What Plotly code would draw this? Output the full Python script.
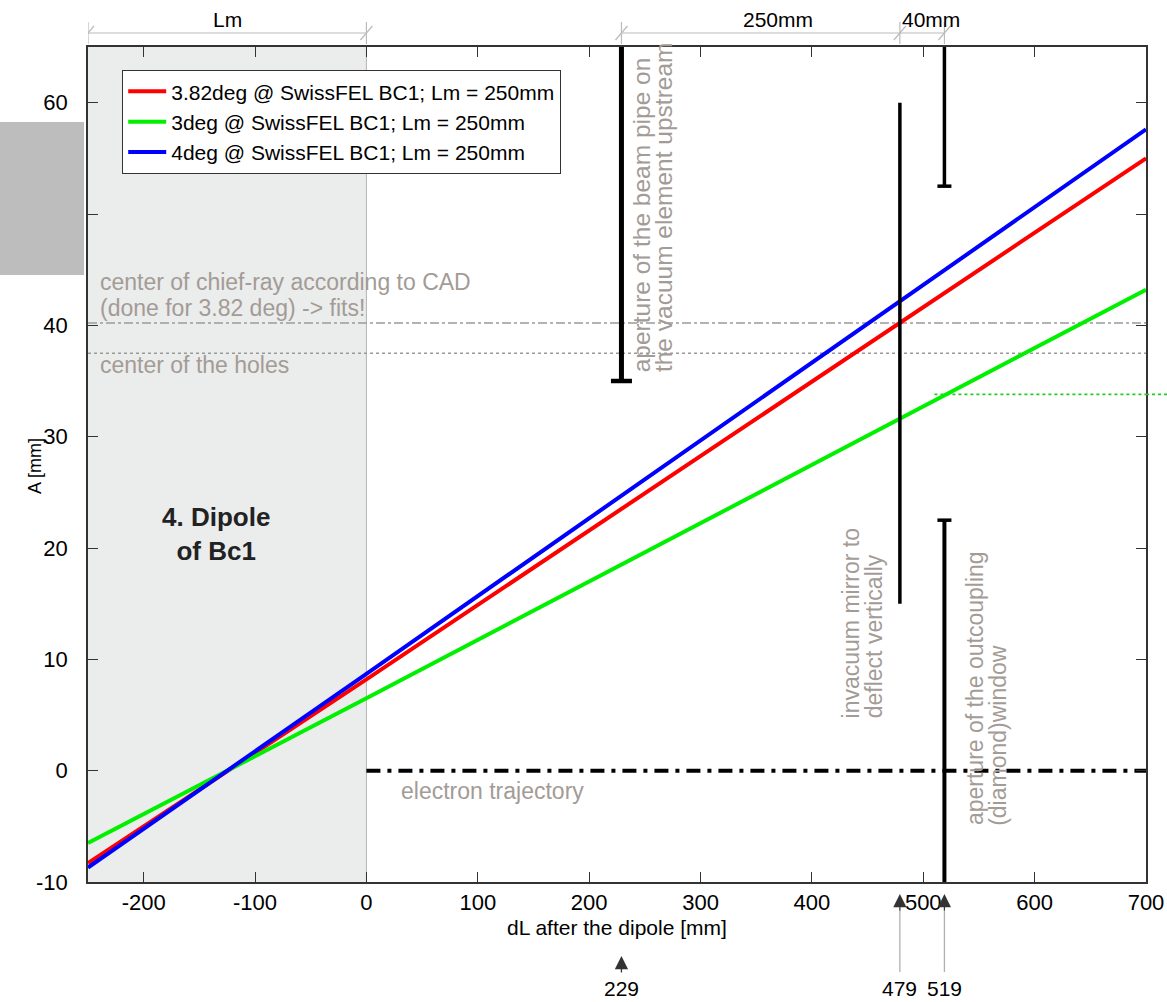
import plotly.graph_objects as go

# ---------------- data ----------------
x_pts = [-250, 0, 700]
y_382deg = [-8.3, 8.2, 55.0]
y_3deg = [-6.5, 6.5, 43.2]
y_4deg = [-8.7, 8.7, 57.6]
series_names = ["3.82deg @ SwissFEL BC1; Lm = 250mm",
                "3deg @ SwissFEL BC1; Lm = 250mm",
                "4deg @ SwissFEL BC1; Lm = 250mm"]
series_colors = ["#ff0000", "#00f000", "#0000ff"]

x_range = [-250, 700]
y_range = [-10, 65]
x_ticks = [-200, -100, 0, 100, 200, 300, 400, 500, 600, 700]
y_ticks = [-10, 0, 10, 20, 30, 40, 50, 60]

dipole_x = [-250, 0]          # Lm region
chief_ray_y = 40.2            # CAD chief ray
holes_y = 37.5                # center of holes
green_ref_x0 = 510
green_ref_y = 33.8
electron_x = [0, 700]
electron_y = [0, 0]

beam_pipe_x = 229
beam_pipe_y = [35, 65]
mirror_x = 479
mirror_y = [15, 60]
window_x = 519
window_upper_y = [52.5, 65]
window_lower_y = [-10, 22.5]

dim_marks = [-250, 0, 229, 479, 519]
dim_labels = [("Lm", -125), ("250mm", 370), ("40mm", 507)]
arrow_positions = [229, 479, 519]

# ---------------- layout helpers ----------------
W, H = 1167, 1002
L, R, T, B = 88, 21, 47, 120
PW = W - L - R
PH = H - T - B
def py(p):  # pixel y -> paper
    return (H - B - p) / PH
def px(p):  # pixel x -> paper
    return (p - L) / PW

FONT = "Liberation Sans, Arial, sans-serif"
GRAY_TXT = "#a39b96"

fig = go.Figure()

# reference horizontal lines
fig.add_trace(go.Scatter(x=x_range, y=[chief_ray_y] * 2, mode="lines",
                         line=dict(color="#9a9a9a", width=1.5, dash="dashdot"),
                         showlegend=False, hoverinfo="skip"))
fig.add_trace(go.Scatter(x=x_range, y=[holes_y] * 2, mode="lines",
                         line=dict(color="#9a9a9a", width=1.5, dash="dot"),
                         showlegend=False, hoverinfo="skip"))
fig.add_trace(go.Scatter(x=[green_ref_x0, x_range[1]], y=[green_ref_y] * 2, mode="lines",
                         line=dict(color="#22cc22", width=1.8, dash="dot"),
                         showlegend=False, hoverinfo="skip"))
fig.add_trace(go.Scatter(x=electron_x, y=electron_y, mode="lines",
                         line=dict(color="black", width=4, dash="14px,7px,4px,7px"),
                         showlegend=False, hoverinfo="skip"))

# main series
for i, (ys, name, col) in enumerate(zip([y_382deg, y_3deg, y_4deg], series_names, series_colors)):
    fig.add_trace(go.Scatter(x=x_pts, y=ys, mode="lines", name=name,
                             line=dict(color=col, width=4), legendrank=i + 1))

# black vertical apertures
def vbar(x, ys, width):
    fig.add_trace(go.Scatter(x=[x, x], y=ys, mode="lines",
                             line=dict(color="black", width=width),
                             showlegend=False, hoverinfo="skip"))
def cap(x, y, size, width):
    fig.add_trace(go.Scatter(x=[x], y=[y], mode="markers",
                             marker=dict(symbol="line-ew-open", size=size, color="black",
                                         line=dict(color="black", width=width)),
                             showlegend=False, hoverinfo="skip", cliponaxis=False))

vbar(beam_pipe_x, beam_pipe_y, 5)
cap(beam_pipe_x, beam_pipe_y[0], 15, 4.5)
vbar(mirror_x, mirror_y, 3.5)
vbar(window_x, window_upper_y, 3.5)
cap(window_x, window_upper_y[0], 10, 3.5)
vbar(window_x, window_lower_y, 4)
cap(window_x, window_lower_y[1], 10, 3.5)

shapes = []
# dipole shaded region
shapes.append(dict(type="rect", xref="x", yref="y", x0=dipole_x[0], x1=dipole_x[1],
                   y0=y_range[0], y1=y_range[1], fillcolor="#ebecec", line=dict(width=0),
                   layer="below"))
shapes.append(dict(type="line", xref="x", yref="y", x0=dipole_x[1], x1=dipole_x[1],
                   y0=y_range[0], y1=y_range[1], line=dict(color="#b4b4b4", width=1),
                   layer="below"))
# green dotted extension beyond axis
shapes.append(dict(type="line", xref="x domain", yref="y", x0=1.0, x1=1.05,
                   y0=green_ref_y, y1=green_ref_y,
                   line=dict(color="#22cc22", width=1.8, dash="dot")))
# gray block at far left
shapes.append(dict(type="rect", xref="paper", yref="paper", x0=px(0), x1=px(84),
                   y0=py(275), y1=py(122), fillcolor="#bdbdbd", line=dict(width=0)))

# dimension lines on top
dim_y = py(33)
for a, b in [(dim_marks[0], dim_marks[1]), (dim_marks[2], dim_marks[3]), (dim_marks[3], dim_marks[4])]:
    shapes.append(dict(type="line", xref="x", yref="paper", x0=a, x1=b, y0=dim_y, y1=dim_y,
                       line=dict(color="#bbbbbb", width=1.2)))
for m in dim_marks:
    shapes.append(dict(type="line", xref="x", yref="paper", xsizemode="pixel", xanchor=m,
                       ysizemode="pixel", yanchor=dim_y, x0=0, x1=0, y0=-11, y1=11,
                       line=dict(color="#bbbbbb", width=1.2)))
    shapes.append(dict(type="line", xref="x", yref="paper", xsizemode="pixel", xanchor=m,
                       ysizemode="pixel", yanchor=dim_y, x0=-6, x1=6, y0=-7, y1=7,
                       line=dict(color="#bbbbbb", width=1.2)))

# arrow shafts at bottom
for m in arrow_positions:
    top = 962 if m == arrow_positions[0] else 910
    shapes.append(dict(type="line", xref="x", yref="paper", x0=m, x1=m,
                       y0=py(972), y1=py(top), line=dict(color="#b0b0b0", width=1.3)))

annotations = []
for txt, xc in dim_labels:
    annotations.append(dict(text=txt, x=xc, y=py(19), xref="x", yref="paper",
                            xanchor="center", yanchor="middle",
                            showarrow=False, font=dict(size=21, color="black", family=FONT)))
for m in arrow_positions:
    tip = 956 if m == arrow_positions[0] else 894
    annotations.append(dict(text="", x=m, y=py(tip), xref="x", yref="paper",
                            showarrow=True, arrowhead=2, arrowsize=2.2, arrowwidth=1.2,
                            arrowcolor="#333333", ax=0, ay=18))
    annotations.append(dict(text=str(m), x=m, y=py(988), xref="x", yref="paper",
                            xanchor="center", yanchor="middle",
                            showarrow=False, font=dict(size=21, color="black", family=FONT)))
# axis titles
annotations.append(dict(text="dL after the dipole [mm]", x=px(617), y=py(927), xref="paper",
                        yref="paper", xanchor="center", yanchor="middle", showarrow=False,
                        font=dict(size=21, color="black", family=FONT)))
annotations.append(dict(text="A [mm]", x=px(35), y=py(466), xref="paper", textangle=-90,
                        yref="paper", xanchor="center", yanchor="middle", showarrow=False,
                        font=dict(size=18, color="black", family=FONT)))

def gtxt(text, x, y, xanchor="left", yanchor="middle", angle=0, size=23, color=GRAY_TXT, bold=False):
    annotations.append(dict(text=f"<b>{text}</b>" if bold else text, x=x, y=y, xref="x", yref="y",
                            xanchor=xanchor, yanchor=yanchor, textangle=angle, showarrow=False,
                            font=dict(size=size, color=color, family=FONT)))

gtxt("center of chief-ray according to CAD", -241, 43.9)
gtxt("(done for 3.82 deg) -> fits!", -241, 41.6)
gtxt("center of the holes", -241, 36.4)
gtxt("electron trajectory", 29, -1.8)
gtxt("4. Dipole<br>of Bc1", -135, 21.3, xanchor="center", size=26, color="#222222", bold=True)
gtxt("aperture of the beam pipe on", 247, 35.6, xanchor="center", yanchor="bottom", angle=-90, size=24.5)
gtxt("the vacuum element upstream", 267, 35.6, xanchor="center", yanchor="bottom", angle=-90, size=24.5)
gtxt("invacuum mirror to", 435, 4.5, xanchor="center", yanchor="bottom", angle=-90)
gtxt("deflect vertically", 455.5, 4.5, xanchor="center", yanchor="bottom", angle=-90)
gtxt("aperture of the outcoupling", 547, -5.1, xanchor="center", yanchor="bottom", angle=-90)
gtxt("(diamond)window", 567, -5.1, xanchor="center", yanchor="bottom", angle=-90)

axis_common = dict(showline=True, linecolor="#333333", linewidth=1.5, mirror="ticks",
                   ticks="inside", ticklen=10, tickwidth=1.2, tickcolor="#333333",
                   showgrid=False, zeroline=False,
                   tickfont=dict(size=22, color="black", family=FONT))

fig.update_layout(
    width=W, height=H, margin=dict(l=L, r=R, t=T, b=B, autoexpand=False),
    paper_bgcolor="white", plot_bgcolor="white",
    font=dict(family=FONT, color="black"),
    xaxis=dict(range=x_range, tickvals=x_ticks, ticktext=[str(v) for v in x_ticks],
               ticklabelstandoff=0, **axis_common),
    yaxis=dict(range=y_range, tickvals=y_ticks, ticktext=[str(v) for v in y_ticks],
               ticklabelstandoff=14, **axis_common),
    legend=dict(x=px(122), y=py(70), xanchor="left", yanchor="top",
                bgcolor="white", bordercolor="#333333", borderwidth=1.2, itemwidth=38,
                font=dict(size=21, color="black", family=FONT), tracegroupgap=0),
    shapes=shapes, annotations=annotations, showlegend=True,
)

fig.write_html("out.html")
